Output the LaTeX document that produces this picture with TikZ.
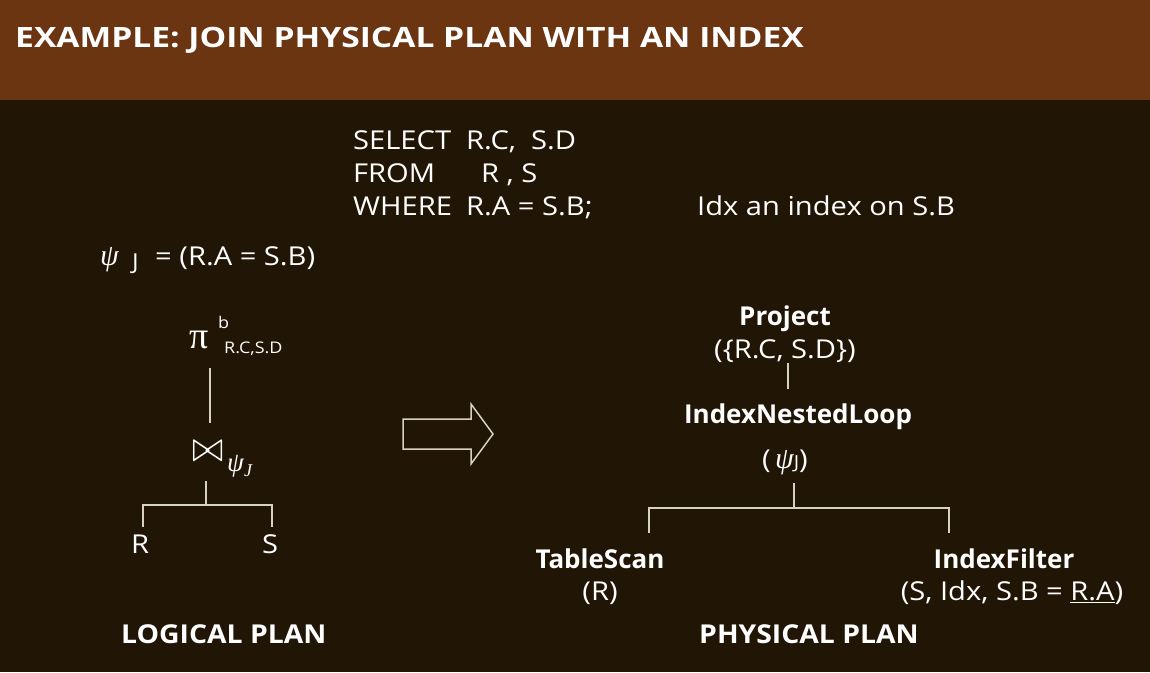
\documentclass[tikz,border=0pt]{standalone}
\usepackage{fontspec}
\setmainfont{Open Sans}
\newfontfamily\wide{Open Sans}[FakeStretch=1.12]
\newfontfamily\ttlf{Open Sans}[FakeStretch=1.2]
\newfontfamily\capf{Open Sans}[FakeStretch=1.09]
\newfontfamily\grk{Liberation Serif}
\definecolor{hdr}{RGB}{107,53,18}
\definecolor{bgc}{RGB}{33,22,6}
\definecolor{lnc}{RGB}{214,210,196}
\tikzset{
  txt/.style={text=white, inner sep=0pt, font=\wide\fontsize{26}{30}\selectfont},
  btxt/.style={text=white, inner sep=0pt, font=\fontsize{26}{30}\selectfont\bfseries},
  ctxt/.style={text=white, inner sep=0pt, font=\capf\fontsize{26}{30}\selectfont\bfseries},
  stxt/.style={text=white, inner sep=0pt, font=\wide\fontsize{16}{18}\selectfont},
  gtxt/.style={text=white, inner sep=0pt, font=\grk\itshape\fontsize{30}{32}\selectfont},
  ttl/.style={text=white, inner sep=0pt, font=\ttlf\fontsize{28}{32}\selectfont\bfseries},
  conn/.style={draw=lnc, line width=1.3pt},
}
\begin{document}
\begin{tikzpicture}[x=1pt,y=-1pt]
\fill[bgc] (0,0) rectangle (1150,672);
\fill[hdr] (0,0) rectangle (1150,100);
\useasboundingbox (0,0) rectangle (1150,672);

% title
\node[ttl, anchor=base west] (title) at (15,47) {EXAMPLE: JOIN PHYSICAL PLAN WITH AN INDEX};

% SQL
\node[txt, anchor=base west] (sel) at (353,149) {SELECT};
\node[txt, anchor=base west] (selv) at (466,149) {R.C,\ \ S.D};
\node[txt, anchor=base west] (from) at (353,182) {FROM};
\node[txt, anchor=base west] (fromv) at (481,182) {R , S};
\node[txt, anchor=base west] (where) at (353,215) {WHERE};
\node[txt, anchor=base west] (wherev) at (466,215) {R.A = S.B;};
\node[txt, anchor=base west] (idx) at (697,215) {Idx an index on S.B};

% psi definition
\node[gtxt, anchor=base west] (psi1) at (100,265) {ψ};
\node[stxt, anchor=base west, font=\wide\fontsize{22}{24}\selectfont] (psi1j) at (132,269) {J};
\node[txt, anchor=base west] (psidef) at (155,265) {= (R.A = S.B)};

% logical plan
\node[text=white, inner sep=0pt, font=\grk\fontsize{38}{40}\selectfont, anchor=base west] (pi) at (189,348) {π};
\node[stxt, anchor=base west] (pisup) at (218,328) {b};
\node[stxt, anchor=base west] (pisub) at (224,353) {R.C,S.D};
\node[text=white, inner sep=0pt, anchor=south west] (join) at (192,462) {\resizebox{31pt}{20pt}{$\bowtie$}};
\node[gtxt, anchor=base west, font=\grk\itshape\fontsize{27}{30}\selectfont] (joinpsi) at (227,471) {ψ};
\node[gtxt, anchor=base west, font=\grk\itshape\fontsize{18}{20}\selectfont] (joinj) at (244,476) {J};
\node[txt, anchor=base] (R) at (140,553) {R};
\node[txt, anchor=base] (S) at (270,553) {S};
\coordinate (pib) at (210,368);
\coordinate (jt) at (210,423);
\coordinate (jb) at (206,481);
\coordinate (jm) at (206,505);
\coordinate (Rt) at (143,527);
\coordinate (St) at (272,527);
\draw[conn] (pib) -- (jt);
\draw[conn] (jb) -- (jm);
\draw[conn] (Rt) |- (jm) -| (St);
\node[ctxt, anchor=base west] (lp) at (121,643) {LOGICAL PLAN};

% big arrow
\draw[draw=lnc, line width=1.5pt] (403,419) -- (471,419) -- (471,404) -- (493,434) -- (471,464) -- (471,449) -- (403,449) -- cycle;

% physical plan
\node[btxt, anchor=base] (proj) at (785,325) {Project};
\node[txt, anchor=base] (projv) at (785,358) {(\{R.C, S.D\})};
\node[btxt, anchor=base] (inl) at (798,423) {IndexNestedLoop};
\node[txt, anchor=base] (inlv) at (785,468) {(\,{\grk\itshape\fontsize{30}{30}\selectfont ψ}{\fontsize{18}{18}\selectfont J})};
\node[btxt, anchor=base] (ts) at (600,568) {TableScan};
\node[txt, anchor=base] (tsv) at (600,600) {(R)};
\node[btxt, anchor=base] (ixf) at (1004,568) {IndexFilter};
\node[txt, anchor=base] (ixfv) at (1012,600) {(S, Idx, S.B = \underline{R.A})};
\node[ctxt, anchor=base west] (pp) at (699,643) {PHYSICAL PLAN};
\coordinate (pa) at (788,363);
\coordinate (pb) at (788,389);
\coordinate (ia) at (794,483);
\coordinate (im) at (794,508);
\coordinate (tt) at (649,533);
\coordinate (ft) at (949,533);
\draw[conn] (pa) -- (pb);
\draw[conn] (ia) -- (im);
\draw[conn] (tt) |- (im) -| (ft);
\end{tikzpicture}
\end{document}
